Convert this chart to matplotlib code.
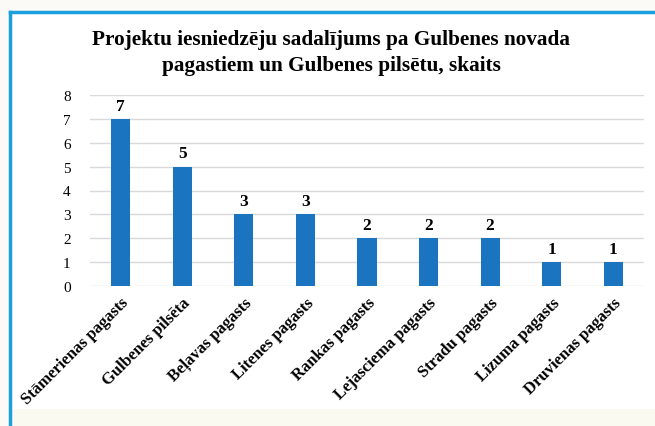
import numpy as np
import matplotlib.pyplot as plt
from matplotlib.lines import Line2D
from matplotlib.patches import Rectangle

categories = ['Stāmerienas pagasts', 'Gulbenes pilsēta', 'Beļavas pagasts',
              'Litenes pagasts', 'Rankas pagasts', 'Lejasciema pagasts',
              'Stradu pagasts', 'Lizuma pagasts', 'Druvienas pagasts']
values = [7, 5, 3, 3, 2, 2, 2, 1, 1]
yticks = [0, 1, 2, 3, 4, 5, 6, 7, 8]
title = 'Projektu iesniedzēju sadalījums pa Gulbenes novada\npagastiem un Gulbenes pilsētu, skaits'

plt.rcParams['font.family'] = ['Liberation Serif', 'DejaVu Serif']

fig = plt.figure(figsize=(6.55, 4.27), dpi=100)
fig.patch.set_facecolor('white')

# outer frame pieces
fig.add_artist(Rectangle((0, 0), 1, 1, transform=fig.transFigure, facecolor='#fbfaf6', edgecolor='none', zorder=-3))
fig.add_artist(Rectangle((10/655, 0), 1, 1 - 12/427, transform=fig.transFigure, facecolor='white', edgecolor='none', zorder=-2))
fig.add_artist(Rectangle((12/655, 0), 1, 17/427, transform=fig.transFigure, facecolor='#fbfaf0', edgecolor='none', zorder=-1))
fig.add_artist(Line2D([10/655, 10/655], [0, 1 - 13/427], transform=fig.transFigure, color='#1aa0dc', lw=2.5))
fig.add_artist(Line2D([10/655, 1], [1 - 13/427, 1 - 13/427], transform=fig.transFigure, color='#1aa0dc', lw=2.5))

ax = fig.add_axes([90/655, 1 - 287/427, 554/655, 191/427])
ax.set_facecolor('none')
x = np.arange(len(categories))
bars = ax.bar(x, values, width=0.31, color='#1a74c0', zorder=3)
for xi, v in zip(x, values):
    ax.text(xi, v + 0.22, str(v), ha='center', va='bottom', fontsize=12.5, fontweight='bold')

ax.set_ylim(0, 8)
ax.set_xlim(-0.5, len(categories) - 0.5)
ax.set_yticks(yticks)
ax.set_yticklabels([str(t) for t in yticks], fontsize=11)
ax.yaxis.grid(True, color='#d9d9d9', lw=1)
ax.set_axisbelow(True)
for s in ['top', 'right', 'left', 'bottom']:
    ax.spines[s].set_visible(False)
ax.tick_params(length=0)
ax.tick_params(axis='y', pad=14)
ax.set_xticks(x)
ax.set_xticklabels(categories, rotation=45, ha='right', rotation_mode='anchor',
                   fontsize=12, fontweight='bold')
ax.tick_params(axis='x', pad=6)

fig.text(331/655, 1 - 53/427, title, ha='center', va='center', fontsize=15.3,
         fontweight='bold', linespacing=1.45)

fig.savefig('out.png', dpi=100)
